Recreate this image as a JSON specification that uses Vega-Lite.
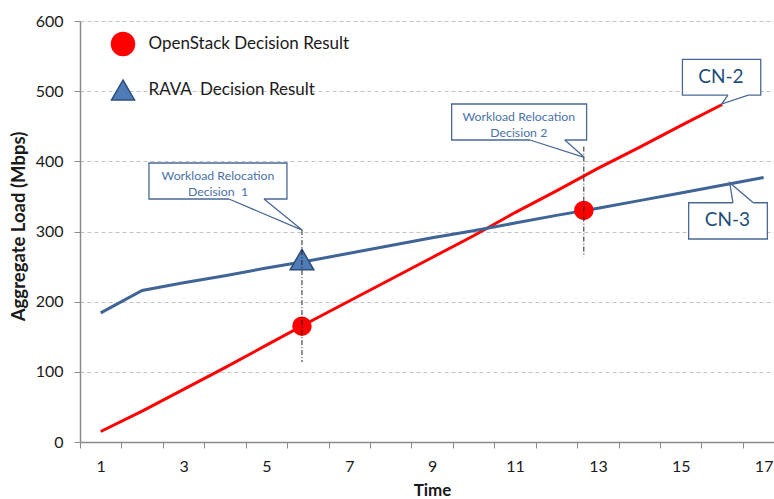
{
  "$schema": "https://vega.github.io/schema/vega-lite/v6.json",
  "width": 694,
  "height": 421,
  "autosize": {"type": "none"},
  "padding": {"left": 80, "top": 21, "right": 0, "bottom": 57},
  "background": "white",
  "config": {
    "view": {"stroke": null},
    "font": "Lato",
    "axis": {"labelFont": "Lato", "titleFont": "Lato"}
  },
  "datasets": {
    "lines": [
      {"series": "CN-2", "time": 1, "load": 15},
      {"series": "CN-2", "time": 2, "load": 44},
      {"series": "CN-2", "time": 3, "load": 75},
      {"series": "CN-2", "time": 4, "load": 106},
      {"series": "CN-2", "time": 5, "load": 138},
      {"series": "CN-2", "time": 6, "load": 170},
      {"series": "CN-2", "time": 7, "load": 201},
      {"series": "CN-2", "time": 8, "load": 232},
      {"series": "CN-2", "time": 9, "load": 263},
      {"series": "CN-2", "time": 10, "load": 294},
      {"series": "CN-2", "time": 11, "load": 327},
      {"series": "CN-2", "time": 12, "load": 358},
      {"series": "CN-2", "time": 13, "load": 390},
      {"series": "CN-2", "time": 14, "load": 420},
      {"series": "CN-2", "time": 15, "load": 451},
      {"series": "CN-2", "time": 16, "load": 481},
      {"series": "CN-3", "time": 1, "load": 184},
      {"series": "CN-3", "time": 2, "load": 216},
      {"series": "CN-3", "time": 3, "load": 227},
      {"series": "CN-3", "time": 4, "load": 237},
      {"series": "CN-3", "time": 5, "load": 248},
      {"series": "CN-3", "time": 6, "load": 258},
      {"series": "CN-3", "time": 7, "load": 269},
      {"series": "CN-3", "time": 8, "load": 280},
      {"series": "CN-3", "time": 9, "load": 291},
      {"series": "CN-3", "time": 10, "load": 301},
      {"series": "CN-3", "time": 11, "load": 312},
      {"series": "CN-3", "time": 12, "load": 323},
      {"series": "CN-3", "time": 13, "load": 333},
      {"series": "CN-3", "time": 14, "load": 344},
      {"series": "CN-3", "time": 15, "load": 355},
      {"series": "CN-3", "time": 16, "load": 366},
      {"series": "CN-3", "time": 17, "load": 377}
    ],
    "markers": [
      {"kind": "OpenStack Decision Result", "time": 5.857, "load": 165},
      {"kind": "OpenStack Decision Result", "time": 12.66, "load": 330},
      {"kind": "RAVA  Decision Result", "time": 5.857, "load": 260}
    ],
    "decisions": [
      {"time": 5.857, "top": 302, "bottom": 114},
      {"time": 12.66, "top": 421, "bottom": 264}
    ],
    "boxes": [
      {"id": "d1", "x1": 2.165, "x2": 5.495, "y1": 346.3, "y2": 397.6, "g1": 4.096, "g2": 4.94, "gy": 346.3},
      {"id": "d2", "x1": 9.47, "x2": 12.727, "y1": 430.4, "y2": 481.7, "g1": 11.36, "g2": 12.2, "gy": 430.4},
      {"id": "cn2", "x1": 15.04, "x2": 16.93, "y1": 494.5, "y2": 545.4, "g1": 16.14, "g2": 16.63, "gy": 494.5},
      {"id": "cn3", "x1": 15.19, "x2": 17.09, "y1": 289.3, "y2": 341.0, "g1": 16.26, "g2": 16.75, "gy": 341.0}
    ],
    "pointers": [
      {"id": "d1", "ord": 1, "time": 4.096, "load": 346.3},
      {"id": "d1", "ord": 2, "time": 5.86, "load": 302},
      {"id": "d1", "ord": 3, "time": 4.94, "load": 346.3},
      {"id": "d2", "ord": 1, "time": 11.36, "load": 430.4},
      {"id": "d2", "ord": 2, "time": 12.67, "load": 405.8},
      {"id": "d2", "ord": 3, "time": 12.2, "load": 430.4},
      {"id": "cn2", "ord": 1, "time": 16.14, "load": 494.5},
      {"id": "cn2", "ord": 2, "time": 15.985, "load": 481.7},
      {"id": "cn2", "ord": 3, "time": 16.63, "load": 494.5},
      {"id": "cn3", "ord": 1, "time": 16.26, "load": 341.0},
      {"id": "cn3", "ord": 2, "time": 16.18, "load": 369.6},
      {"id": "cn3", "ord": 3, "time": 16.75, "load": 341.0}
    ],
    "notes": [
      {"label": "Workload Relocation\nDecision\u00a0 1", "time": 3.83, "load": 379.5},
      {"label": "Workload Relocation\nDecision 2", "time": 11.09, "load": 463.6}
    ],
    "cnlabels": [
      {"label": "CN-2", "time": 15.97, "load": 520},
      {"label": "CN-3", "time": 16.125, "load": 316}
    ]
  },
  "layer": [
    {
      "data": {"name": "boxes"},
      "mark": {"type": "rect", "fill": "white", "stroke": "#4a6896", "strokeWidth": 1.3},
      "encoding": {
        "x": {
          "field": "x1", "type": "quantitative",
          "scale": {"domain": [0.5, 17.25], "nice": false, "zero": false},
          "axis": {
            "title": "Time",
            "values": [0.5, 1.5, 2.5, 3.5, 4.5, 5.5, 6.5, 7.5, 8.5, 9.5, 10.5, 11.5, 12.5, 13.5, 14.5, 15.5, 16.5],
            "labelExpr": "(datum.value + 0.5) % 2 == 1 ? format(datum.value + 0.5, 'd') : ''",
            "labelOffset": 20.72,
            "labelOverlap": false,
            "labelFlush": false,
            "labelFontSize": 16,
            "labelColor": "#1a1a1a",
            "labelPadding": 10,
            "tickSize": 6,
            "tickColor": "#8a8a8a",
            "tickWidth": 1,
            "domainColor": "#8a8a8a",
            "domainWidth": 1.5,
            "grid": false,
            "titleFontSize": 17,
            "titleFontWeight": "bold",
            "titleColor": "#1a1a1a",
            "titleX": 352,
            "titleY": 40,
            "titleBaseline": "top",
            "titleAlign": "center"
          }
        },
        "x2": {"field": "x2"},
        "y": {
          "field": "y1", "type": "quantitative",
          "scale": {"domain": [0, 600], "nice": false},
          "axis": {
            "title": "Aggregate Load (Mbps)",
            "values": [0, 100, 200, 300, 400, 500, 600],
            "labelFontSize": 16,
            "labelColor": "#1a1a1a",
            "labelPadding": 11,
            "tickSize": 6,
            "tickColor": "#8a8a8a",
            "domainColor": "#8a8a8a",
            "domainWidth": 1.5,
            "grid": true,
            "gridColor": "#c4c4c4",
            "gridDash": [4, 3],
            "gridWidth": 1.2,
            "titleFontSize": 18.5,
            "titleFontWeight": "bold",
            "titleColor": "#1a1a1a",
            "titleAngle": 270,
            "titleX": -56,
            "titleY": 205,
            "titleAlign": "center",
            "titleBaseline": "alphabetic"
          }
        },
        "y2": {"field": "y2"}
      }
    },
    {
      "data": {"name": "boxes"},
      "mark": {"type": "rule", "stroke": "white", "strokeWidth": 2.5},
      "encoding": {
        "x": {"field": "g1", "type": "quantitative"},
        "x2": {"field": "g2"},
        "y": {"field": "gy", "type": "quantitative"}
      }
    },
    {
      "data": {"name": "lines"},
      "transform": [{"filter": "datum.series == 'CN-2'"}],
      "mark": {"type": "line", "stroke": "#ff0000", "strokeWidth": 3},
      "encoding": {
        "x": {"field": "time", "type": "quantitative"},
        "y": {"field": "load", "type": "quantitative"}
      }
    },
    {
      "data": {"name": "lines"},
      "transform": [{"filter": "datum.series == 'CN-3'"}],
      "mark": {"type": "line", "stroke": "#3f6596", "strokeWidth": 3},
      "encoding": {
        "x": {"field": "time", "type": "quantitative"},
        "y": {"field": "load", "type": "quantitative"}
      }
    },
    {
      "data": {"name": "markers"},
      "mark": {"type": "point", "filled": true, "strokeWidth": 1.5, "opacity": 1},
      "encoding": {
        "x": {"field": "time", "type": "quantitative"},
        "y": {"field": "load", "type": "quantitative"},
        "fill": {
          "field": "kind", "type": "nominal",
          "scale": {"domain": ["OpenStack Decision Result", "RAVA  Decision Result"], "range": ["#ff0000", "#4f7bb7"]},
          "legend": {
            "orient": "none", "legendX": 30.5, "legendY": 10.5, "title": null,
            "symbolSize": 529, "labelFontSize": 17, "labelFont": "Lato", "labelColor": "#1a1a1a", "labelLimit": 400,
            "labelExpr": "replace(datum.label, 'RAVA  ', 'RAVA\u00a0 ')",
            "rowPadding": 18, "labelOffset": 13, "padding": 0, "symbolStrokeWidth": 1.5, "symbolOpacity": 1
          }
        },
        "stroke": {
          "field": "kind", "type": "nominal",
          "scale": {"domain": ["OpenStack Decision Result", "RAVA  Decision Result"], "range": ["#ff0000", "#2c4f7c"]}
        },
        "shape": {
          "field": "kind", "type": "nominal",
          "scale": {"domain": ["OpenStack Decision Result", "RAVA  Decision Result"], "range": ["circle", "triangle-up"]}
        },
        "size": {"condition": {"test": "datum.kind == 'RAVA  Decision Result'", "value": 560}, "value": 324}
      }
    },
    {
      "data": {"name": "decisions"},
      "mark": {"type": "rule", "stroke": "#222222", "strokeWidth": 1, "strokeDash": [5, 2, 1, 2]},
      "encoding": {
        "x": {"field": "time", "type": "quantitative"},
        "y": {"field": "top", "type": "quantitative"},
        "y2": {"field": "bottom"}
      }
    },
    {
      "data": {"name": "pointers"},
      "mark": {"type": "line", "stroke": "#4a6896", "strokeWidth": 1.3},
      "encoding": {
        "x": {"field": "time", "type": "quantitative"},
        "y": {"field": "load", "type": "quantitative"},
        "detail": {"field": "id"},
        "order": {"field": "ord", "type": "quantitative"}
      }
    },
    {
      "data": {"name": "notes"},
      "mark": {"type": "text", "lineBreak": "\n", "lineHeight": 16, "fontSize": 12.3, "font": "Lato", "fill": "#4a72a8", "align": "center", "baseline": "middle"},
      "encoding": {
        "x": {"field": "time", "type": "quantitative"},
        "y": {"field": "load", "type": "quantitative"},
        "text": {"field": "label"}
      }
    },
    {
      "data": {"name": "cnlabels"},
      "mark": {"type": "text", "fontSize": 19, "font": "Lato", "fill": "#1f4e79", "align": "center", "baseline": "middle"},
      "encoding": {
        "x": {"field": "time", "type": "quantitative"},
        "y": {"field": "load", "type": "quantitative"},
        "text": {"field": "label"}
      }
    }
  ]
}
